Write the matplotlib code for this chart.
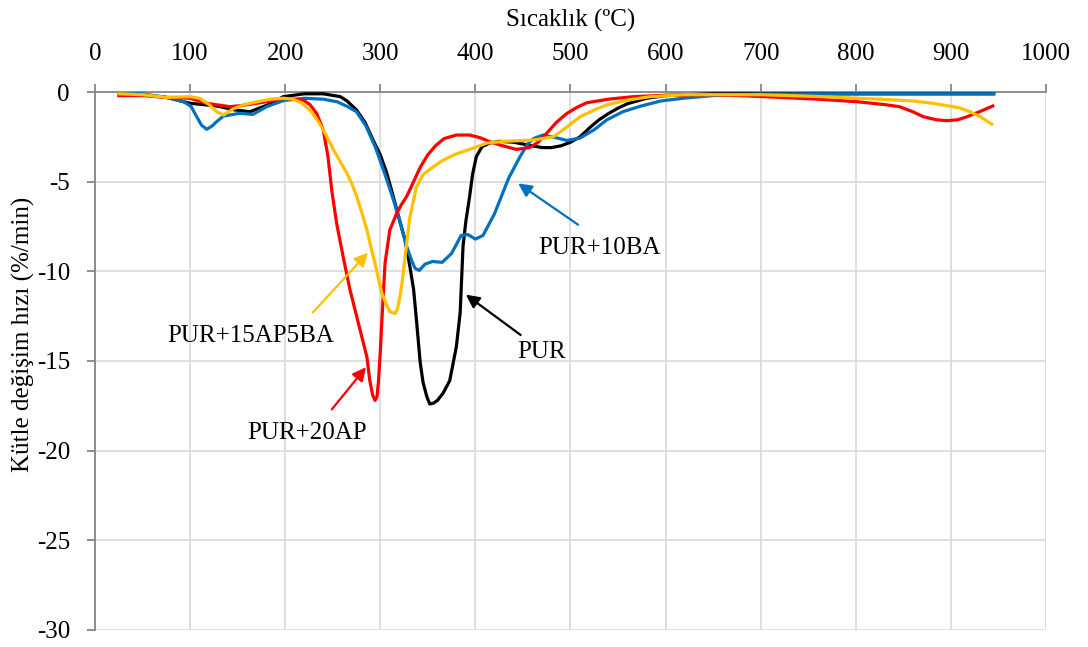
import numpy as np
import matplotlib.pyplot as plt

plt.rcParams['font.family'] = ['Liberation Serif', 'DejaVu Serif']
plt.rcParams['axes.unicode_minus'] = False

# DTG: kütle değişim hızı (%/min) - sıcaklık (ºC)
t_pur = [25, 50, 75, 100, 128, 147, 163, 184, 198, 220, 240, 258, 265, 275, 284, 292.6, 300,
         306.7, 314, 320, 326, 331, 335, 338, 342, 345, 349, 352, 356, 360, 366, 373, 380, 384,
         387, 390, 394, 397, 401, 407, 415, 425, 440, 460, 470, 480, 490, 500, 510, 520, 530, 540,
         550, 560, 580, 600, 650, 700, 800, 900, 945]
v_pur = [-0.1, -0.15, -0.3, -0.63, -0.78, -1.0, -1.1, -0.67, -0.26, -0.1, -0.1, -0.26, -0.5,
         -1.0, -1.7, -2.7, -3.5, -4.5, -5.9, -7.1, -8.25, -9.7, -11.0, -12.7, -15.1, -16.2, -17.0,
         -17.4, -17.35, -17.2, -16.8, -16.1, -14.2, -12.3, -8.6, -7.2, -5.8, -4.6, -3.6, -3.05,
         -2.85, -2.75, -2.8, -3.0, -3.1, -3.1, -3.0, -2.8, -2.5, -2.0, -1.55, -1.2, -0.9, -0.65,
         -0.35, -0.2, -0.1, -0.1, -0.1, -0.1, -0.1]

t_10ba = [26, 50, 75, 93, 101, 107, 112, 117.5, 123, 128, 135, 152, 166, 180.5, 198, 220, 240,
          255, 265, 275, 285, 295, 305, 313.7, 320, 327.7, 333, 336.5, 341, 347, 355, 365, 375,
          385, 392, 400, 408, 415, 420, 426, 435, 447, 455, 461, 471, 485, 496, 510, 525, 538, 555,
          573, 595, 618, 650, 700, 800, 900, 945]
v_10ba = [0.0, -0.1, -0.3, -0.54, -0.8, -1.38, -1.85, -2.08, -1.9, -1.65, -1.34, -1.19, -1.25,
          -0.82, -0.48, -0.35, -0.4, -0.55, -0.8, -1.1, -1.9, -3.1, -4.6, -6.0, -7.1, -8.6, -9.4,
          -9.83, -9.95, -9.6, -9.45, -9.5, -9.0, -8.0, -7.95, -8.2, -8.0, -7.3, -6.8, -6.0, -4.8,
          -3.6, -2.9, -2.6, -2.4, -2.55, -2.7, -2.57, -2.1, -1.56, -1.1, -0.8, -0.5, -0.35, -0.2,
          -0.12, -0.1, -0.1, -0.1]

t_20ap = [25, 50, 75, 100, 117.5, 142, 155, 170, 185, 198, 219, 226, 233, 240, 245, 249, 254, 261,
          268, 277, 286, 289, 292, 294.5, 296.5, 298, 300, 301.5, 305, 310, 317, 322, 328, 335,
          342, 350, 358, 367, 380, 394, 405, 415, 426, 443, 457, 466, 475, 485, 496, 507, 517, 540,
          566, 600, 650, 700, 720, 760, 801, 830, 846, 860, 871, 885, 896, 907, 917, 930, 944]
v_20ap = [-0.2, -0.2, -0.3, -0.35, -0.63, -0.82, -0.75, -0.63, -0.5, -0.35, -0.45, -0.7, -1.19,
          -2.1, -3.6, -5.5, -7.3, -9.2, -11.0, -12.9, -14.8, -16.1, -16.9, -17.2, -17.0, -16.2,
          -14.5, -12.9, -9.55, -7.7, -6.8, -6.3, -5.8, -5.0, -4.2, -3.5, -3.0, -2.6, -2.4, -2.4,
          -2.55, -2.77, -2.96, -3.2, -3.1, -2.8, -2.3, -1.7, -1.2, -0.85, -0.6, -0.4, -0.26, -0.18,
          -0.15, -0.25, -0.3, -0.4, -0.54, -0.7, -0.82, -1.1, -1.38, -1.55, -1.6, -1.55, -1.38,
          -1.1, -0.78]

t_15ap5ba = [25, 50, 75, 100, 110, 120, 128, 135, 145, 156, 170, 184, 198, 208, 217, 226, 233, 240,
             250.6, 257, 264.6, 270, 275, 281, 286, 290, 294.4, 298, 301.5, 306, 310, 315.5, 318,
             320.7, 323.5, 326, 331, 338, 345, 355, 366, 380, 394, 412, 430, 461, 482, 495, 510,
             525, 538, 560, 584, 620, 700, 760, 825, 860, 881, 900, 910, 920, 931, 943]
v_15ap5ba = [-0.1, -0.15, -0.3, -0.26, -0.35, -0.7, -1.1, -1.28, -0.95, -0.72, -0.55, -0.4, -0.35,
             -0.4, -0.6, -1.0, -1.5, -2.1, -3.2, -3.8, -4.5, -5.1, -5.8, -6.8, -7.7, -8.6, -9.55,
             -10.4, -11.2, -11.8, -12.25, -12.35, -12.1, -11.4, -10.4, -9.2, -7.0, -5.3, -4.6,
             -4.2, -3.8, -3.45, -3.2, -2.85, -2.75, -2.68, -2.5, -2.0, -1.38, -1.0, -0.72, -0.45,
             -0.26, -0.15, -0.15, -0.25, -0.4, -0.5, -0.63, -0.8, -0.9, -1.1, -1.38, -1.8]

fig = plt.figure(figsize=(10.88, 6.47), dpi=100)
ax = fig.add_axes([0.0873, 0.0263, 0.8741, 0.8315])

lw = 2.3
ax.plot(t_pur, v_pur, color='black', lw=lw, zorder=3)
ax.plot(t_10ba, v_10ba, color='#0070c0', lw=lw, zorder=4)
ax.plot(t_20ap, v_20ap, color='#ff0000', lw=lw, zorder=5)
ax.plot(t_15ap5ba, v_15ap5ba, color='#ffc000', lw=lw, zorder=6)

ax.set_xlim(0, 1000)
ax.set_ylim(-30, 0)
ax.set_xticks(np.arange(0, 1001, 100))
ax.set_yticks(np.arange(-30, 1, 5))

ax.grid(True, color='#d9d9d9', lw=1.2, zorder=0)
ax.set_axisbelow(True)
for s in ['right', 'bottom']:
    ax.spines[s].set_visible(False)
for s in ['left', 'top']:
    ax.spines[s].set_color('#868686')
    ax.spines[s].set_linewidth(1.3)

ax.xaxis.tick_top()
ax.xaxis.set_label_position('top')
ax.tick_params(axis='x', direction='out', length=6, width=1.3, color='#868686',
               labelsize=18, pad=13.5)
ax.tick_params(axis='y', direction='out', length=6, width=1.3, color='#868686',
               labelsize=18, pad=12)

ax.set_xlabel('Sıcaklık (ºC)', fontsize=18, labelpad=12)
ax.set_ylabel('Kütle değişim hızı (%/min)', fontsize=18)
ax.yaxis.set_label_coords(-0.063, 0.55)

# etiketler ve oklar
notes = [
    ('PUR+10BA', (445, -5.1), (508, -7.4), (530, -8.7), '#0070c0'),
    ('PUR+15AP5BA', (287, -8.96), (229, -12.3), (164, -13.6), '#ffc000'),
    ('PUR+20AP', (285, -15.35), (249, -17.7), (223, -19.0), '#ff0000'),
    ('PUR', (390, -11.3), (447.6, -13.55), (470, -14.5), 'black'),
]
for label, head, tail, pos, c in notes:
    ax.annotate('', xy=head, xytext=tail,
                arrowprops=dict(arrowstyle='-|>', color=c, lw=1.6, mutation_scale=20,
                                shrinkA=0, shrinkB=0), zorder=7)
    ax.text(pos[0], pos[1], label, fontsize=18, ha='center', va='center', zorder=7)

plt.savefig('out.png', dpi=100)
